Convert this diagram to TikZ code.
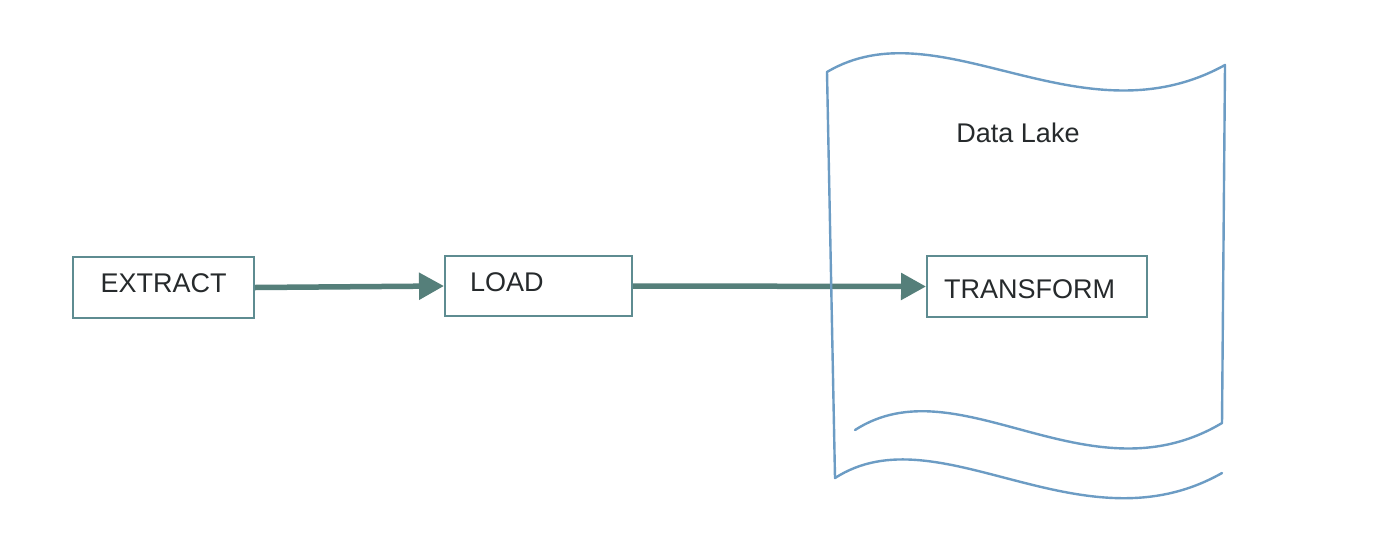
\documentclass[tikz,border=0pt]{standalone}
\usepackage{fontspec}
\setmainfont{Liberation Sans}
\usetikzlibrary{arrows.meta}
\definecolor{boxc}{HTML}{5E8C91}
\definecolor{arrc}{HTML}{557F7A}
\definecolor{lakec}{HTML}{6C9CC4}
\definecolor{txtc}{HTML}{262A2C}
\begin{document}
\begin{tikzpicture}[x=1pt,y=-1pt,
  stagebox/.style={draw=boxc, line width=2.2pt, inner ysep=0pt, font=\fontsize{27}{30}\selectfont, text=txtc},
  flow/.style={draw=arrc, line width=5.5pt, -{Triangle[length=25pt,width=26pt]}},
  lake/.style={draw=lakec, line width=2.4pt, line join=round, line cap=round},
  laketitle/.style={font=\fontsize{27}{30}\selectfont, text=txtc, inner sep=0pt}]
\useasboundingbox (0,0) rectangle (1391,554);
\fill[white] (0,0) rectangle (1391,554);
% boxes
\node[stagebox, anchor=base west, inner xsep=27pt, text width=127pt, align=center,
      text height=35pt, text depth=26pt] (extract) at (72,292) {EXTRACT};
\node[stagebox, anchor=base west, inner xsep=25pt, text width=137pt, align=left,
      text height=35pt, text depth=25pt] (load) at (444,291) {LOAD};
\node[stagebox, anchor=base west, inner xsep=17pt, text width=186pt, align=left,
      text height=42pt, text depth=19pt] (transform) at (926,298) {TRANSFORM};
% arrows
\draw[flow] (extract.east) -- (load.west);
\draw[flow] (load.east) -- (transform.west);
% data lake
\coordinate (bwR) at (1222,473);
\coordinate (bwL) at (835,478);
\coordinate (tlL) at (827,72);
\coordinate (tlR) at (1225,65);
\coordinate (rB) at (1222,423);
\coordinate (iwL) at (855,430);
\draw[lake] (bwR) .. controls (1081,553) and (939,411) .. (bwL)
  -- (tlL) .. controls (940,5) and (1080,145) .. (tlR)
  -- (rB) .. controls (1088,503) and (959,363) .. (iwL);
\node[laketitle, anchor=base] (dltitle) at (1018,142) {Data Lake};
\end{tikzpicture}
\end{document}
